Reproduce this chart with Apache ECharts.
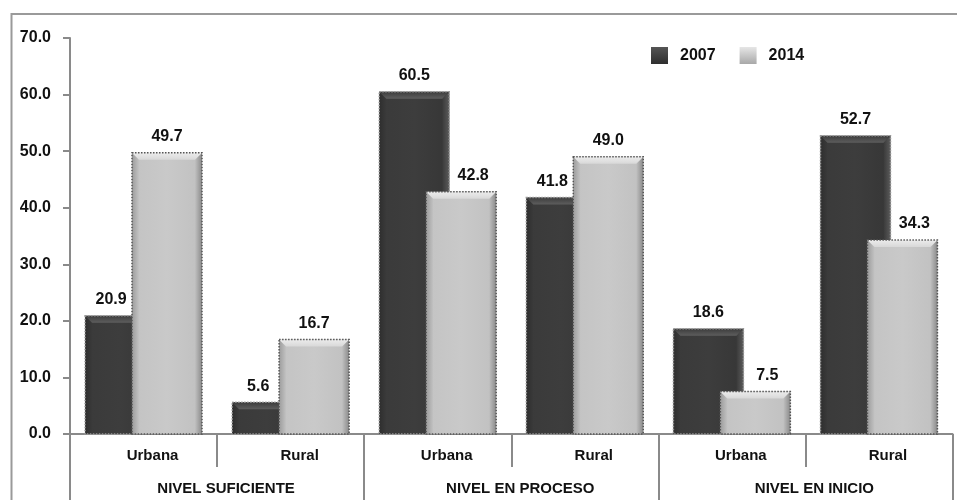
<!DOCTYPE html>
<html>
<head>
<meta charset="utf-8">
<title>Niveles de logro 2007 - 2014</title>
<script src="https://cdn.jsdelivr.net/npm/echarts@6/dist/echarts.min.js"></script>
<style>
  html, body { margin: 0; padding: 0; background: #ffffff; }
  #chart { width: 957px; height: 500px; }
</style>
</head>
<body>
<div id="chart"></div>
<script>
// Area (Urbana / Rural) within each achievement level
const categories = ['Urbana', 'Rural', 'Urbana', 'Rural', 'Urbana', 'Rural'];
// Achievement levels, each spanning two areas
const levels = ['NIVEL SUFICIENTE', 'NIVEL EN PROCESO', 'NIVEL EN INICIO'];
// Percentages per year
const values2007 = [20.9, 5.6, 60.5, 41.8, 18.6, 52.7];
const values2014 = [49.7, 16.7, 42.8, 49.0, 7.5, 34.3];
// Value axis
const yMin = 0;
const yMax = 70;
const yStep = 10;

const FONT = "'Liberation Sans', Arial, sans-serif";
const AXIS_GRAY = '#8a8a8a';

function hGrad(stops) {
  return { type: 'linear', x: 0, y: 0, x2: 1, y2: 0,
    colorStops: stops.map(s => ({ offset: s[0], color: s[1] })) };
}
function vGrad(stops) {
  return { type: 'linear', x: 0, y: 0, x2: 0, y2: 1,
    colorStops: stops.map(s => ({ offset: s[0], color: s[1] })) };
}

// Bevelled column look for each year
const darkLook = {
  body: hGrad([[0, '#3a3a3a'], [0.5, '#3d3d3d'], [1, '#363636']]),
  top: vGrad([[0, '#3c3c3c'], [1, '#5e5e5e']]),
  left: hGrad([[0, '#2e2e2e'], [1, '#3a3a3a']]),
  right: hGrad([[0, '#3a3a3a'], [1, '#5a5a5a']]),
  border: '#9a9a9a',
  legend: vGrad([[0, '#555555'], [1, '#2e2e2e']])
};
const lightLook = {
  body: hGrad([[0, '#c3c3c3'], [0.5, '#c9c9c9'], [1, '#c0c0c0']]),
  top: vGrad([[0, '#ececec'], [1, '#d8d8d8']]),
  left: hGrad([[0, '#9c9c9c'], [1, '#c2c2c2']]),
  right: hGrad([[0, '#c0c0c0'], [1, '#8a8a8a']]),
  border: '#555555',
  legend: vGrad([[0, '#e6e6e6'], [1, '#a8a8a8']])
};

// One column per category: side = -1 for 2007 (left), +1 for 2014 (right).
// The neighbour's values decide whether the value label is nudged aside.
function makeRenderer(side, look, otherValues, labelShift) {
  return function (params, api) {
    const idx = api.value(0);
    const v = api.value(1);
    const topPt = api.coord([idx, v]);
    const basePt = api.coord([idx, 0]);
    const band = api.size([1, 0])[0];
    const w = band * 0.476;
    const cx = topPt[0] + side * band * 0.1595;
    const x0 = cx - w / 2;
    const y0 = topPt[1];
    const h = basePt[1] - topPt[1];
    const b = Math.min(7, h / 3);
    const shift = v < otherValues[params.dataIndex] ? labelShift : 0;
    return {
      type: 'group',
      children: [
        { type: 'rect', shape: { x: x0, y: y0, width: w, height: h }, style: { fill: look.body } },
        { type: 'polygon', shape: { points: [[x0, y0], [x0 + b, y0 + b], [x0 + b, y0 + h], [x0, y0 + h]] },
          style: { fill: look.left } },
        { type: 'polygon', shape: { points: [[x0 + w, y0], [x0 + w, y0 + h], [x0 + w - b, y0 + h], [x0 + w - b, y0 + b]] },
          style: { fill: look.right } },
        { type: 'polygon', shape: { points: [[x0, y0], [x0 + w, y0], [x0 + w - b, y0 + b], [x0 + b, y0 + b]] },
          style: { fill: look.top } },
        { type: 'rect', shape: { x: x0, y: y0, width: w, height: h },
          style: { fill: 'none', stroke: look.border, lineWidth: 1.5, lineDash: [1.5, 1.5] } },
        { type: 'text', x: cx + shift, y: y0 - 8,
          style: { text: v.toFixed(1), align: 'center', verticalAlign: 'bottom',
            font: 'bold 16px ' + FONT, fill: '#111111' } }
      ]
    };
  };
}

const chart = echarts.init(document.getElementById('chart'), null, { renderer: 'canvas' });

chart.setOption({
  animation: false,
  backgroundColor: '#ffffff',
  textStyle: { fontFamily: FONT },
  graphic: [{
    type: 'rect',
    shape: { x: 11.5, y: 14, width: 1000, height: 600 },
    style: { fill: 'none', stroke: '#9a9a9a', lineWidth: 2 },
    silent: true,
    z: -10
  }],
  legend: {
    left: 646,
    top: 42,
    itemWidth: 17,
    itemHeight: 17,
    itemGap: 24,
    icon: 'rect',
    textStyle: { fontFamily: FONT, fontWeight: 'bold', fontSize: 16, color: '#111111', padding: [0, 0, 0, 7] },
    data: [
      { name: '2007', itemStyle: { color: darkLook.legend } },
      { name: '2014', itemStyle: { color: lightLook.legend } }
    ]
  },
  grid: { left: 70, right: 4.5, top: 38, bottom: 66, containLabel: false },
  xAxis: [
    {
      type: 'category',
      data: categories,
      position: 'bottom',
      axisLine: { show: true, lineStyle: { color: AXIS_GRAY, width: 2 } },
      axisTick: { show: true, interval: 0, length: 33, lineStyle: { color: AXIS_GRAY, width: 2 } },
      axisLabel: {
        interval: 0, margin: 14, fontFamily: FONT, fontWeight: 'bold', fontSize: 15,
        color: '#111111', padding: [0, 0, 0, 18]
      },
      splitLine: { show: false }
    },
    {
      type: 'category',
      data: levels,
      position: 'bottom',
      axisLine: { show: false },
      axisTick: { show: true, interval: 0, length: 90, lineStyle: { color: AXIS_GRAY, width: 2 } },
      axisLabel: {
        interval: 0, margin: 47, fontFamily: FONT, fontWeight: 'bold', fontSize: 15,
        color: '#111111', padding: [0, 0, 0, 18]
      },
      splitLine: { show: false }
    }
  ],
  yAxis: {
    type: 'value',
    min: yMin,
    max: yMax,
    interval: yStep,
    axisLine: { show: true, lineStyle: { color: AXIS_GRAY, width: 2 } },
    axisTick: { show: true, length: 7, lineStyle: { color: AXIS_GRAY, width: 2 } },
    axisLabel: {
      margin: 19, fontFamily: FONT, fontWeight: 'bold', fontSize: 16, color: '#111111',
      formatter: v => v.toFixed(1)
    },
    splitLine: { show: false }
  },
  series: [
    {
      name: '2007',
      type: 'custom',
      xAxisIndex: 0,
      itemStyle: { color: darkLook.legend },
      encode: { x: 0, y: 1 },
      data: values2007.map((v, i) => [i, v]),
      renderItem: makeRenderer(-1, darkLook, values2014, -9)
    },
    {
      name: '2014',
      type: 'custom',
      xAxisIndex: 0,
      itemStyle: { color: lightLook.legend },
      encode: { x: 0, y: 1 },
      data: values2014.map((v, i) => [i, v]),
      renderItem: makeRenderer(1, lightLook, values2007, 12)
    }
  ]
});
</script>
</body>
</html>
